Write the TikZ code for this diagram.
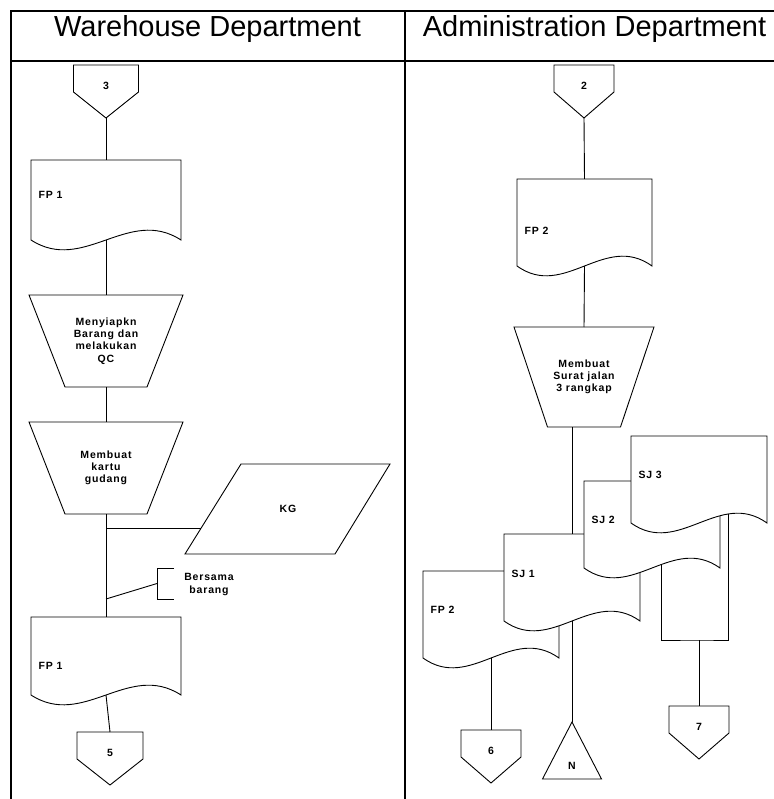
\documentclass[tikz,border=0pt]{standalone}
\usepackage{fontspec}
\setmainfont{Liberation Sans}
\newfontfamily\lblfont[LetterSpace=8]{Liberation Sans}

% document symbol: name, left, top, width, height, label, label offset
\newcommand\docu[7]{%
  \path[shp] (#2,#3) -- (#2+#4,#3) -- (#2+#4,#3+#5)
    .. controls (#2+0.65*#4,#3+#5-34) and (#2+0.35*#4,#3+#5+34) .. (#2,#3+#5) -- cycle;
  \node[box, anchor=north west, minimum width=#4, minimum height=#5] (#1) at (#2,#3) {};
  \node[lbl, anchor=west] at (#2+4,#3+#7) {#6};
}
% off-page connector: name, centre x, top, half width, label
\newcommand\offpage[5]{%
  \path[shp] (#2-#4,#3) -- (#2+#4,#3) -- (#2+#4,#3+27) -- (#2,#3+53) -- (#2-#4,#3+27) -- cycle;
  \node[box, anchor=north, minimum width=2*#4, minimum height=53] (#1) at (#2,#3) {};
  \node[lbl] at (#2,#3+21) {#5};
}
% manual operation: name, centre x, top, top width, bottom width, height, text
\newcommand\manop[7]{%
  \path[shp] (#2-#4/2,#3) -- (#2+#4/2,#3) -- (#2+#5/2,#3+#6) -- (#2-#5/2,#3+#6) -- cycle;
  \node[box, lbl, anchor=north, minimum width=#4, minimum height=#6] (#1) at (#2,#3) {#7};
}

\begin{document}
\begin{tikzpicture}[x=1pt,y=-1pt,
  frame/.style={line width=2pt},
  shp/.style={draw, line width=0.9pt, fill=white},
  link/.style={line width=0.9pt},
  box/.style={inner sep=0pt, outer sep=0pt, draw=none},
  lbl/.style={font=\lblfont\bfseries\fontsize{10.5}{12.3}\selectfont, align=center},
  head/.style={font=\fontsize{29}{34}\selectfont, anchor=base},
]
\useasboundingbox (0,0) rectangle (773,799);

% swimlane table
\draw[frame] (11,799) -- (11,11) -- (775,11);
\draw[frame] (11,61.5) -- (775,61.5);
\draw[frame] (405,11) -- (405,799);
\node[head] (wh) at (207.5,37) {Warehouse Department};
\node[head] (ad) at (594.5,37) {Administration Department};

% ---------------- Warehouse Department ----------------
\offpage{c3}{106}{65}{32.5}{3}
\docu{fp1a}{31}{160}{150}{80}{FP 1}{35}
\manop{mo1}{106}{295}{154}{82}{92}{Menyiapkn\\Barang dan\\melakukan\\QC}
\manop{mo2}{106}{422}{154}{82}{92}{Membuat\\kartu\\gudang}

\path[shp] (241,464) -- (390,464) -- (335,554) -- (185,554) -- cycle;
\node[box, lbl, minimum width=150, minimum height=90] (kg) at (288,509) {KG};

\docu{fp1b}{31}{617}{150}{78}{FP 1}{49}
\offpage{c5}{110}{732}{33}{5}

\path (mo2.south) ++(0,14) coordinate (kgtap);
\path (mo2.south) ++(0,85) coordinate (notetap);
\coordinate (kgin) at (201.2,528);
\coordinate (note) at (157,583.5);

\draw[link] (c3.south) -- (fp1a.north);
\draw[link] (fp1a.south) -- (mo1.north);
\draw[link] (mo1.south) -- (mo2.north);
\draw[link] (mo2.south) -- (fp1b.north);
\draw[link] (kgtap) -- (kgin);
\draw[link] (notetap) -- (note);
\draw[link] (174,568) -- (157,568) -- (157,599) -- (174,599);
\node[lbl] (bers) at (209,584.5) {Bersama\\barang};
\draw[link] (fp1b.south) -- (c5.north);

% ---------------- Administration Department ----------------
\offpage{c2}{584}{65}{30}{2}
\docu{fp2a}{517}{179}{135}{87}{FP 2}{52}
\manop{mo3}{584}{327}{140}{73}{100}{Membuat\\Surat jalan\\3 rangkap}
\draw[link] (c2.south) -- (fp2a.north);
\draw[link] (fp2a.south) -- (mo3.north);

% copies 2 and 3 joined below the stack
\coordinate (sj2tap) at (661,560);
\coordinate (sj3tap) at (728,505);
\coordinate (j7) at (699,640);
\draw[link] (sj2tap) |- (j7) -| (sj3tap);

% stacked documents, back to front
\docu{fp2s}{423}{571}{136}{87}{FP 2}{39}
\docu{sj1}{504}{534}{136}{87}{SJ 1}{40}
\docu{sj2}{584}{481}{136}{87}{SJ 2}{39}
\docu{sj3}{631}{436}{136}{87}{SJ 3}{39}

\draw[link] (sj1.north |- mo3.south) -- (sj1.north);

\offpage{c6}{491}{730}{30}{6}
\offpage{c7}{699}{706}{30}{7}
\path[shp] (572,722) -- (601.5,779) -- (542.5,779) -- cycle;
\node[box, anchor=north, minimum width=59, minimum height=57] (nfile) at (572,722) {};
\node[lbl] at (572,766) {N};

\draw[link] (fp2s.south) -- (c6.north);
\draw[link] (sj1.south) -- (nfile.north);
\draw[link] (j7) -- (c7.north);
\end{tikzpicture}
\end{document}
